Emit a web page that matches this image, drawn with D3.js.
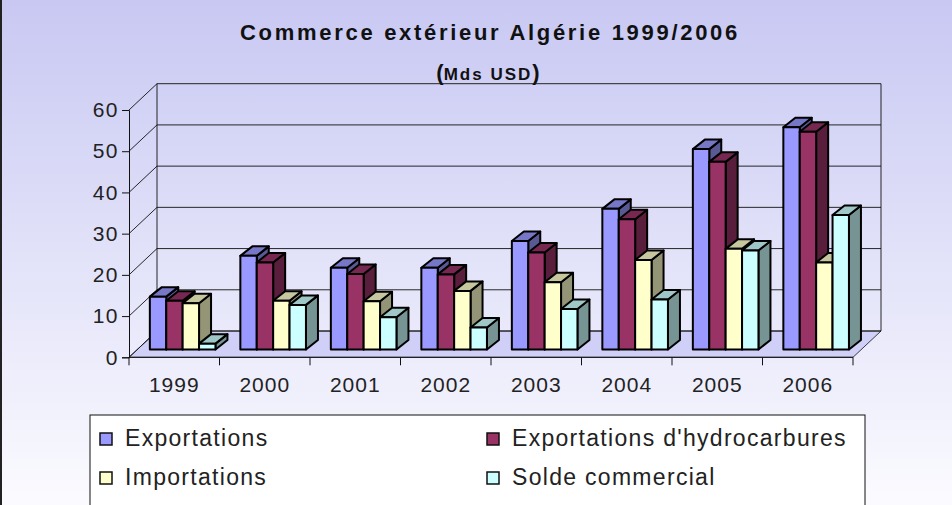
<!DOCTYPE html>
<html>
<head>
<meta charset="utf-8">
<script src="https://cdn.jsdelivr.net/npm/d3@7"></script>
<style>
  html, body { margin: 0; padding: 0; }
  body { width: 952px; height: 505px; overflow: hidden; }
  svg { display: block; font-family: "Liberation Sans", Arial, sans-serif; }
</style>
</head>
<body>
<svg id="chart" width="952" height="505"></svg>
<script>
// données (Mds USD)
const years = ['1999', '2000', '2001', '2002', '2003', '2004', '2005', '2006'];
const seriesNames = ['Exportations', "Exportations d'hydrocarbures", 'Importations', 'Solde commercial'];
const exportations = [12.8, 22.7, 19.8, 19.8, 26.3, 34.1, 48.6, 53.9];
const hydrocarbures = [11.8, 21.1, 18.3, 18.2, 23.5, 31.6, 45.5, 52.8];
const importations = [11.2, 11.8, 11.7, 14.2, 16.3, 21.7, 24.4, 21.1];
const solde = [1.4, 10.8, 7.8, 5.3, 9.8, 12.1, 24.0, 32.6];
const yTicks = [0, 10, 20, 30, 40, 50, 60];
const colors = ['#9999ff', '#993366', '#ffffcc', '#ccffff'];

const series = [exportations, hydrocarbures, importations, solde];

const svg = d3.select('#chart');

// fond dégradé
const defs = svg.append('defs');
const grad = defs.append('linearGradient').attr('id', 'bg').attr('x1', 0).attr('y1', 0).attr('x2', 0).attr('y2', 1);
grad.append('stop').attr('offset', '0%').attr('stop-color', '#c8c8f3');
grad.append('stop').attr('offset', '100%').attr('stop-color', '#fbfbff');
svg.append('rect').attr('width', 952).attr('height', 505).attr('fill', 'url(#bg)');
svg.append('rect').attr('x', 0).attr('y', 0).attr('width', 2).attr('height', 505).attr('fill', '#222');

// titre
svg.append('text')
    .attr('x', 490).attr('y', 40)
    .attr('text-anchor', 'middle')
    .attr('font-size', '22px').attr('font-weight', 'bold')
    .attr('letter-spacing', '2.7px')
    .attr('fill', '#111')
    .text('Commerce extérieur Algérie 1999/2006');

const sub = svg.append('text')
    .attr('x', 488).attr('y', 80)
    .attr('text-anchor', 'middle')
    .attr('font-weight', 'bold')
    .attr('fill', '#111');
sub.append('tspan').attr('font-size', '22px').text('(');
sub.append('tspan').attr('font-size', '17px').attr('letter-spacing', '2px').text('Mds USD');
sub.append('tspan').attr('font-size', '22px').text(')');

// échelles
const x = d3.scaleBand().domain(years).range([129, 853]);
const y = d3.scaleLinear().domain([0, 60]).range([357.3, 110]);

const DX = 28, DY = -26.3;          // profondeur des parois
const bz = 0.3;                      // plan avant des barres
const bdx = 12, bdy = -9.5;          // profondeur des barres
const barW = 16.4;
const inner = d3.scaleBand().domain(d3.range(series.length))
    .range([0, barW * series.length]);
const pad = (x.bandwidth() - barW * series.length) / 2;

const x0 = x.range()[0], x1 = x.range()[1];
const yMin = y(0), yMax = y(60);

// sol
svg.append('polygon')
    .attr('points', [[x0, yMin], [x1, yMin], [x1 + DX, yMin + DY], [x0 + DX, yMin + DY]].join(' '))
    .attr('fill', '#cfcff8')
    .attr('stroke', '#111').attr('stroke-width', 0.8);

// quadrillage
const grid = svg.append('g').attr('stroke', '#111').attr('stroke-width', 0.9).attr('fill', 'none');
yTicks.forEach(v => {
    grid.append('line')
        .attr('x1', x0 + DX).attr('y1', y(v) + DY)
        .attr('x2', x1 + DX).attr('y2', y(v) + DY);
    grid.append('line')
        .attr('x1', x0).attr('y1', y(v))
        .attr('x2', x0 + DX).attr('y2', y(v) + DY);
});
grid.append('line').attr('x1', x0 + DX).attr('y1', yMax + DY).attr('x2', x0 + DX).attr('y2', yMin + DY);
grid.append('line').attr('x1', x1 + DX).attr('y1', yMax + DY).attr('x2', x1 + DX).attr('y2', yMin + DY);

// axe Y
const yAxis = svg.append('g')
    .attr('transform', `translate(${x0},0)`)
    .call(d3.axisLeft(y).tickValues(yTicks).tickSize(7).tickPadding(3));
yAxis.select('.domain').attr('stroke', '#111');
yAxis.selectAll('.tick line').attr('stroke', '#111');
yAxis.selectAll('.tick text')
    .attr('font-size', '21px')
    .attr('letter-spacing', '1.5px')
    .attr('font-family', '"Liberation Sans", Arial, sans-serif')
    .attr('fill', '#222');

// axe X
const xAxis = svg.append('g');
xAxis.append('line').attr('x1', x0).attr('x2', x1).attr('y1', yMin).attr('y2', yMin).attr('stroke', '#111');
xAxis.selectAll('line.tk')
    .data(years.map(d => x(d)).concat([x1]))
    .join('line').attr('class', 'tk')
    .attr('x1', d => d).attr('x2', d => d)
    .attr('y1', yMin).attr('y2', yMin + 8)
    .attr('stroke', '#111');
xAxis.selectAll('text')
    .data(years)
    .join('text')
    .attr('x', d => x(d) + x.bandwidth() / 2)
    .attr('y', 392)
    .attr('text-anchor', 'middle')
    .attr('font-size', '21px')
    .attr('letter-spacing', '1px')
    .attr('fill', '#222')
    .text(d => d);

// barres 3D
const shade = (c, k) => { const r = d3.rgb(c); return d3.rgb(r.r * k, r.g * k, r.b * k).formatHex(); };
const bars = svg.append('g').attr('stroke', '#000').attr('stroke-width', 2).attr('stroke-linejoin', 'round');
years.forEach((yr, i) => {
    series.forEach((vals, s) => {
        const v = vals[i];
        const fx = x(yr) + pad + inner(s) + bz * DX;
        const fb = yMin + bz * DY;
        const ft = y(v) + bz * DY;
        const g = bars.append('g');
        // côté
        g.append('polygon')
            .attr('points', [[fx + barW, fb], [fx + barW + bdx, fb + bdy], [fx + barW + bdx, ft + bdy], [fx + barW, ft]].join(' '))
            .attr('fill', shade(colors[s], 0.58));
        // dessus
        g.append('polygon')
            .attr('points', [[fx, ft], [fx + barW, ft], [fx + barW + bdx, ft + bdy], [fx + bdx, ft + bdy]].join(' '))
            .attr('fill', shade(colors[s], 0.78));
        // face
        g.append('rect')
            .attr('x', fx).attr('y', ft)
            .attr('width', barW).attr('height', fb - ft)
            .attr('fill', colors[s]);
    });
});

// légende
const leg = svg.append('g');
leg.append('rect').attr('x', 90).attr('y', 415).attr('width', 775).attr('height', 110)
    .attr('fill', '#ffffff').attr('stroke', '#111').attr('stroke-width', 1);
const legPos = [[100, 446], [487, 446], [100, 485], [487, 485]];
seriesNames.forEach((name, s) => {
    const [lx, ly] = legPos[s];
    leg.append('rect').attr('x', lx).attr('y', ly - 13).attr('width', 12).attr('height', 12)
        .attr('fill', colors[s]).attr('stroke', '#111').attr('stroke-width', 1.5);
    leg.append('text').attr('x', lx + 25).attr('y', ly)
        .attr('font-size', '23px').attr('letter-spacing', '1.3px')
        .attr('fill', '#222')
        .text(name);
});
</script>
</body>
</html>
